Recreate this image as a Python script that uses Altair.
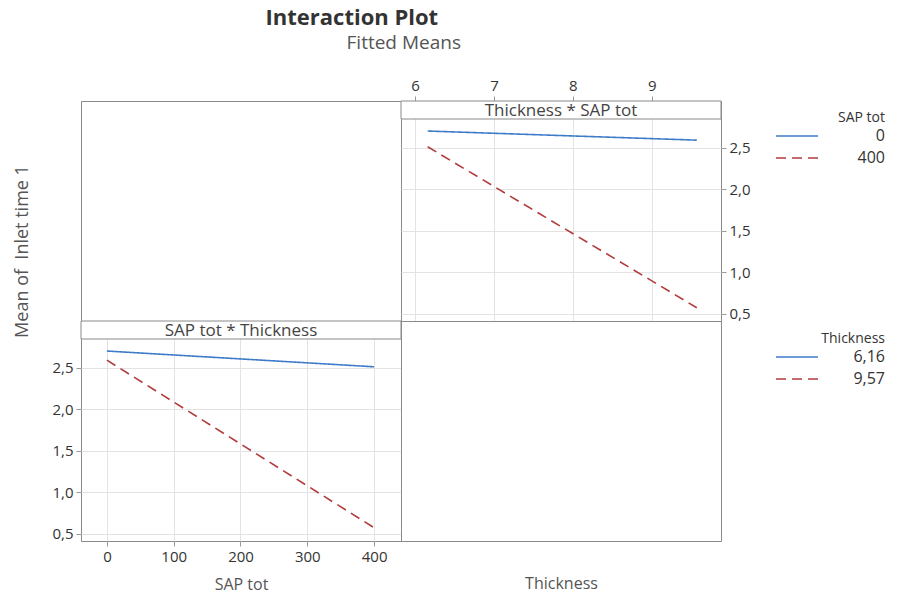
import altair as alt
import pandas as pd

# ---- data ----
thickness_levels = [6.16, 9.57]
thickness_labels = ["6,16", "9,57"]
sap_levels = [0, 400]
sap_labels = ["0", "400"]
# fitted means: rows = thickness level, columns = SAP tot level (0, 400)
means_thick_616 = [2.70, 2.51]
means_thick_957 = [2.59, 0.57]

thickness_ticks = [6, 7, 8, 9]
sap_ticks = [0, 100, 200, 300, 400]
mean_ticks = [0.5, 1.0, 1.5, 2.0, 2.5]

rows = []
for t, tl, ms in zip(thickness_levels, thickness_labels, [means_thick_616, means_thick_957]):
    for s, sl, m in zip(sap_levels, sap_labels, ms):
        rows.append({"Thickness": t, "ThickLabel": tl, "SAP": s, "SAPLabel": sl, "Mean": m})
df = pd.DataFrame(rows)

# ---- styling ----
FONT = "Open Sans"
BLUE = "#3f7cc8"
RED = "#b23b3b"
FRAME = "#8a8a8a"
GRID = "#e3e3e3"
W, H, STRIP = 320, 220, 18
COMMA = "replace(format(datum.value, '.1f'), '.', ',')"

# y domain extends above the data region so the strip header sits on top of it
Y_LO, Y_HI = 0.41, 2.845
Y_TOP = Y_HI + (Y_HI - Y_LO) * STRIP / (H - STRIP)
yscale = alt.Scale(domain=[Y_LO, Y_TOP], zero=False, nice=False)
dash_range = [[1, 0], [10, 6]]


def legend(title, ly):
    return alt.Legend(
        title=title, orient="none", legendX=374, legendY=ly,
        symbolType="M-1,0H5", symbolSize=196, symbolStrokeWidth=1.6,
        symbolOpacity=1, labelAlign="right", labelOffset=94,
        labelFont=FONT, labelFontSize=16, labelColor="#333",
        titleFont=FONT, titleFontSize=14, titleFontWeight="normal",
        titleColor="#333", titleAnchor="end", titlePadding=3, rowPadding=6,
    )


def strip(label):
    sdf = pd.DataFrame({"strip": [label]})
    rect = alt.Chart(sdf).mark_rect(fill="white", stroke=FRAME, strokeWidth=1).encode(
        x=alt.value(0), x2=alt.value(W), y=alt.value(0), y2=alt.value(STRIP)
    )
    txt = alt.Chart(sdf).mark_text(font=FONT, fontSize=17, color="#444", baseline="middle").encode(
        x=alt.value(W / 2), y=alt.value(STRIP / 2 + 1), text="strip:N"
    )
    return rect, txt


# top-right panel: x = Thickness, lines by SAP tot
lg_sap = legend("SAP tot", 10)
tr_lines = alt.Chart(df).mark_line(strokeWidth=1.6).encode(
    x=alt.X("Thickness:Q", scale=alt.Scale(domain=[5.822, 9.877], zero=False, nice=False),
            axis=alt.Axis(orient="top", values=thickness_ticks, title=None, format="d")),
    y=alt.Y("Mean:Q", scale=yscale,
            axis=alt.Axis(orient="right", values=mean_ticks, labelExpr=COMMA, title=None)),
    color=alt.Color("SAPLabel:N", scale=alt.Scale(domain=sap_labels, range=[BLUE, RED]), legend=lg_sap),
    strokeDash=alt.StrokeDash("SAPLabel:N", scale=alt.Scale(domain=sap_labels, range=dash_range), legend=lg_sap),
)
r1, t1 = strip("Thickness * SAP tot")
tr = alt.layer(tr_lines, r1, t1).properties(width=W, height=H)

# bottom-left panel: x = SAP tot, lines by Thickness
bl_lines = alt.Chart(df).mark_line(strokeWidth=1.6).encode(
    x=alt.X("SAP:Q", scale=alt.Scale(domain=[-38.8, 440.3], zero=False, nice=False),
            axis=alt.Axis(orient="bottom", values=sap_ticks, title="SAP tot", titlePadding=12,
                          labelPadding=3)),
    y=alt.Y("Mean:Q", scale=yscale,
            axis=alt.Axis(orient="left", values=mean_ticks, labelExpr=COMMA,
                          title="Mean of\u00a0\u00a0Inlet time 1", titleX=-50, titleY=-70,
                          titleFontSize=18)),
    color=alt.Color("ThickLabel:N", scale=alt.Scale(domain=thickness_labels, range=[BLUE, RED]), legend=None),
    strokeDash=alt.StrokeDash("ThickLabel:N", scale=alt.Scale(domain=thickness_labels, range=dash_range), legend=None),
)
r2, t2 = strip("SAP tot * Thickness")
bl = alt.layer(bl_lines, r2, t2).properties(width=W, height=H)

# top-left empty panel carries the subtitle
tl = alt.Chart(df).mark_point(opacity=0).encode(
    x=alt.X("SAP:Q", axis=None), y=alt.Y("Mean:Q", axis=None)
).properties(
    width=W, height=H,
    title=alt.TitleParams("Fitted Means", anchor="end", align="center", offset=48,
                          font=FONT, fontSize=19, fontWeight="normal", color="#555"),
)

# bottom-right empty panel carries the Thickness axis title and legend
lg_th = legend("Thickness", 11)
br = alt.Chart(df).mark_line(opacity=0).encode(
    x=alt.X("SAP:Q", axis=alt.Axis(title="Thickness", labels=False, ticks=False, domain=False,
                                  grid=False, titlePadding=34)),
    y=alt.Y("Mean:Q", axis=None),
    color=alt.Color("ThickLabel:N", scale=alt.Scale(domain=thickness_labels, range=[BLUE, RED]), legend=lg_th),
    strokeDash=alt.StrokeDash("ThickLabel:N", scale=alt.Scale(domain=thickness_labels, range=dash_range), legend=lg_th),
).properties(width=W, height=H)

chart = alt.concat(tl, tr, bl, br, columns=2, spacing=0, bounds="flush").resolve_scale(
    x="independent", y="independent", color="independent", strokeDash="independent"
).resolve_legend(color="independent", strokeDash="independent").properties(
    title=alt.TitleParams("Interaction Plot", anchor="start", dx=253, offset=4,
                          font=FONT, fontSize=22, fontWeight="bold", color="#333"),
    padding={"left": 12, "top": 6, "right": 0, "bottom": 0},
).configure_view(stroke=FRAME, strokeWidth=1).configure_axis(
    labelFont=FONT, labelFontSize=15, labelColor="#333", tickColor="#999", tickSize=5,
    domain=False, gridColor=GRID, titleFont=FONT, titleFontSize=16, titleFontWeight="normal",
    titleColor="#555", labelPadding=3,
)

chart.save("out.html", embed_options={"renderer": "svg", "actions": False})
